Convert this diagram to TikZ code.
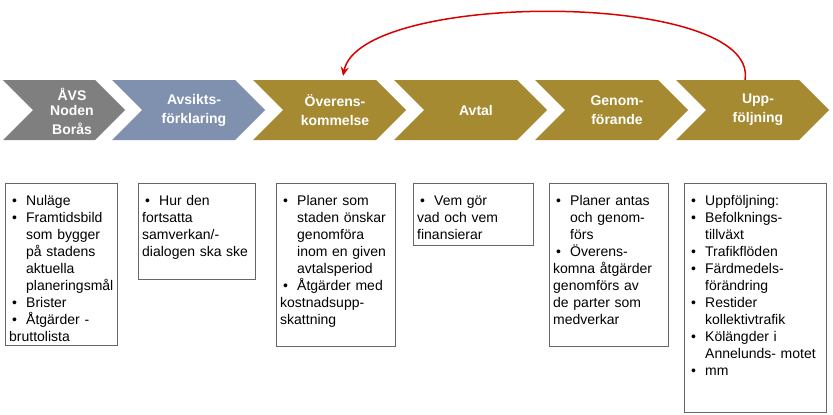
\documentclass[tikz,border=0pt]{standalone}
\usepackage{fontspec}
\setmainfont{Liberation Sans}
\usetikzlibrary{arrows.meta}
\newcommand{\itm}[1]{\par\hangindent=17pt\hangafter=1\noindent\makebox[17pt][l]{\hspace{3pt}\textbullet}#1}
\newcommand{\boxfont}{\fontsize{14}{17}\selectfont\hyphenpenalty=10000\relax\exhyphenpenalty=0\relax}
\begin{document}
\begin{tikzpicture}[x=1pt,y=-1pt,
  lab/.style={text=white,font=\bfseries\fontsize{14}{19}\selectfont,align=center},
  box/.style={anchor=north west,inner sep=4pt,align=left,font=\boxfont},
  frame/.style={draw=black!60,line width=0.8pt}]
\useasboundingbox (0,0) rectangle (833,415);
\definecolor{cg}{HTML}{7F7F7F}\definecolor{cb}{HTML}{8091B0}\definecolor{cy}{HTML}{A58A32}
\fill[cg] (3,80) -- (95,80) -- (125,110) -- (95,140) -- (3,140) -- (33,110) -- cycle;
\node[lab] (c1) at (72,111) {ÅVS\\[-4pt]Noden\\Borås};
\foreach \x/\c/\n/\t in {112/cb/c2/{Avsikts-\\förklaring},253/cy/c3/{Överens-\\kommelse},394/cy/c4/{Avtal},535/cy/c5/{Genom-\\förande},676/cy/c6/{Upp-\\följning}}{
  \fill[\c] (\x,80) -- (\x+123,80) -- (\x+153,110) -- (\x+123,140) -- (\x,140) -- (\x+30,110) -- cycle;
  \node[lab] (\n) at (\x+82,110) {\t};
}
\coordinate (a1) at (745,80);
\coordinate (a2) at (343,76);
\draw[red!85!black,line width=1.5pt,-{Stealth[length=9pt,width=8pt]}] (a1) .. controls (760,-10) and (360,-10) .. (a2);
\node[box,text width=106pt] (b1) at (5,184) {\itm{Nuläge}\itm{Framtidsbild som bygger på stadens aktuella planeringsmål}\itm{Brister}\itm{Åtgärder - bruttolista}};
\draw[frame] (5,183) rectangle (117,345);
\node[box,text width=110pt] (b2) at (138,184) {\itm{Hur den fortsatta samverkan/- dialogen ska ske}};
\draw[frame] (138,183) rectangle (255,279);
\node[box,text width=112pt] (b3) at (276,184) {\itm{Planer som staden önskar genomföra inom en given avtalsperiod}\itm{Åtgärder med kostnadsupp- skattning}};
\draw[frame] (276,183) rectangle (395,346);
\node[box,text width=112pt] (b4) at (413,184) {\itm{Vem gör vad och vem finansierar}};
\draw[frame] (413,183) rectangle (533,245);
\node[box,text width=112pt] (b5) at (549,184) {\itm{Planer antas och genom- förs}\itm{Överens- komna åtgärder genomförs av de parter som medverkar}};
\draw[frame] (549,183) rectangle (668,346);
\node[box,text width=134pt] (b6) at (684,184) {\itm{Uppföljning:}\itm{Befolknings- tillväxt}\itm{Trafikflöden}\itm{Färdmedels- förändring}\itm{Restider kollektivtrafik}\itm{Kölängder i Annelunds- motet}\itm{mm}};
\draw[frame] (684,183) rectangle (826,412);
\end{tikzpicture}
\end{document}
